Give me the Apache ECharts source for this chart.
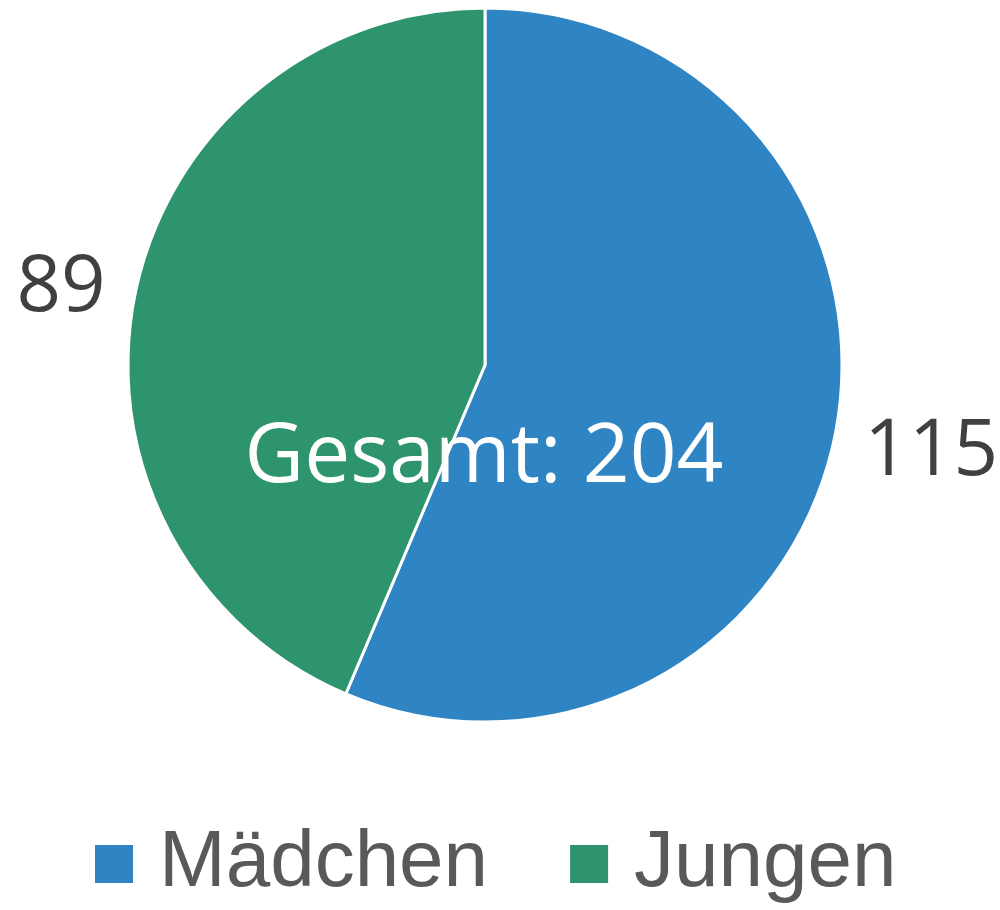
<!DOCTYPE html>
<html>
<head>
    <meta charset="UTF-8">
    <title>pie</title>
    <script src="https://cdn.jsdelivr.net/npm/echarts@6/dist/echarts.min.js"></script>
    <style>
        *{margin:0;padding:0}
        html,body{width:100%;height:100%;background:#fff}
        #main{width:1000px;height:910px}
    </style>
</head>
<body>
    <div id="main"></div>
    <script type="text/javascript">
        var categories = ['Mädchen', 'Jungen'];
        var values = [115, 89];
        var colors = ['#2f84c4', '#2e946d'];

        var total = values.reduce(function (a, b) { return a + b; }, 0);
        var myChart = echarts.init(document.getElementById('main'));

        var pieData = categories.map(function (name, i) {
            var item = {name: name, value: values[i], itemStyle: {color: colors[i]}};
            if (i === 0) {
                item.label = {offset: [0, 12]};
            }
            return item;
        });

        option = {
            animation: false,
            legend: {
                bottom: 1,
                left: 88,
                itemWidth: 40,
                itemHeight: 40,
                itemGap: 80,
                icon: 'rect',
                textStyle: {
                    fontFamily: 'Liberation Sans',
                    fontSize: 80,
                    color: '#595959',
                    padding: [0, 0, 0, 20]
                },
                data: categories
            },
            graphic: [{
                type: 'text',
                x: 484,
                y: 418,
                z: 100,
                style: {
                    text: 'Gesamt: ' + total,
                    fill: '#fff',
                    align: 'center',
                    font: '82px "Open Sans", sans-serif'
                }
            }],
            series: [{
                name: 'Kinder',
                type: 'pie',
                center: [485, 365],
                radius: 357,
                startAngle: 90,
                clockwise: true,
                itemStyle: {borderColor: '#fff', borderWidth: 3},
                label: {
                    show: true,
                    position: 'outside',
                    formatter: '{c}',
                    fontFamily: 'Open Sans',
                    fontSize: 78,
                    color: '#404040',
                    overflow: 'none'
                },
                labelLine: {show: false, length: 25, length2: 0},
                emphasis: {disabled: true},
                data: pieData
            }]
        };
        myChart.setOption(option);
    </script>
</body>
</html>
